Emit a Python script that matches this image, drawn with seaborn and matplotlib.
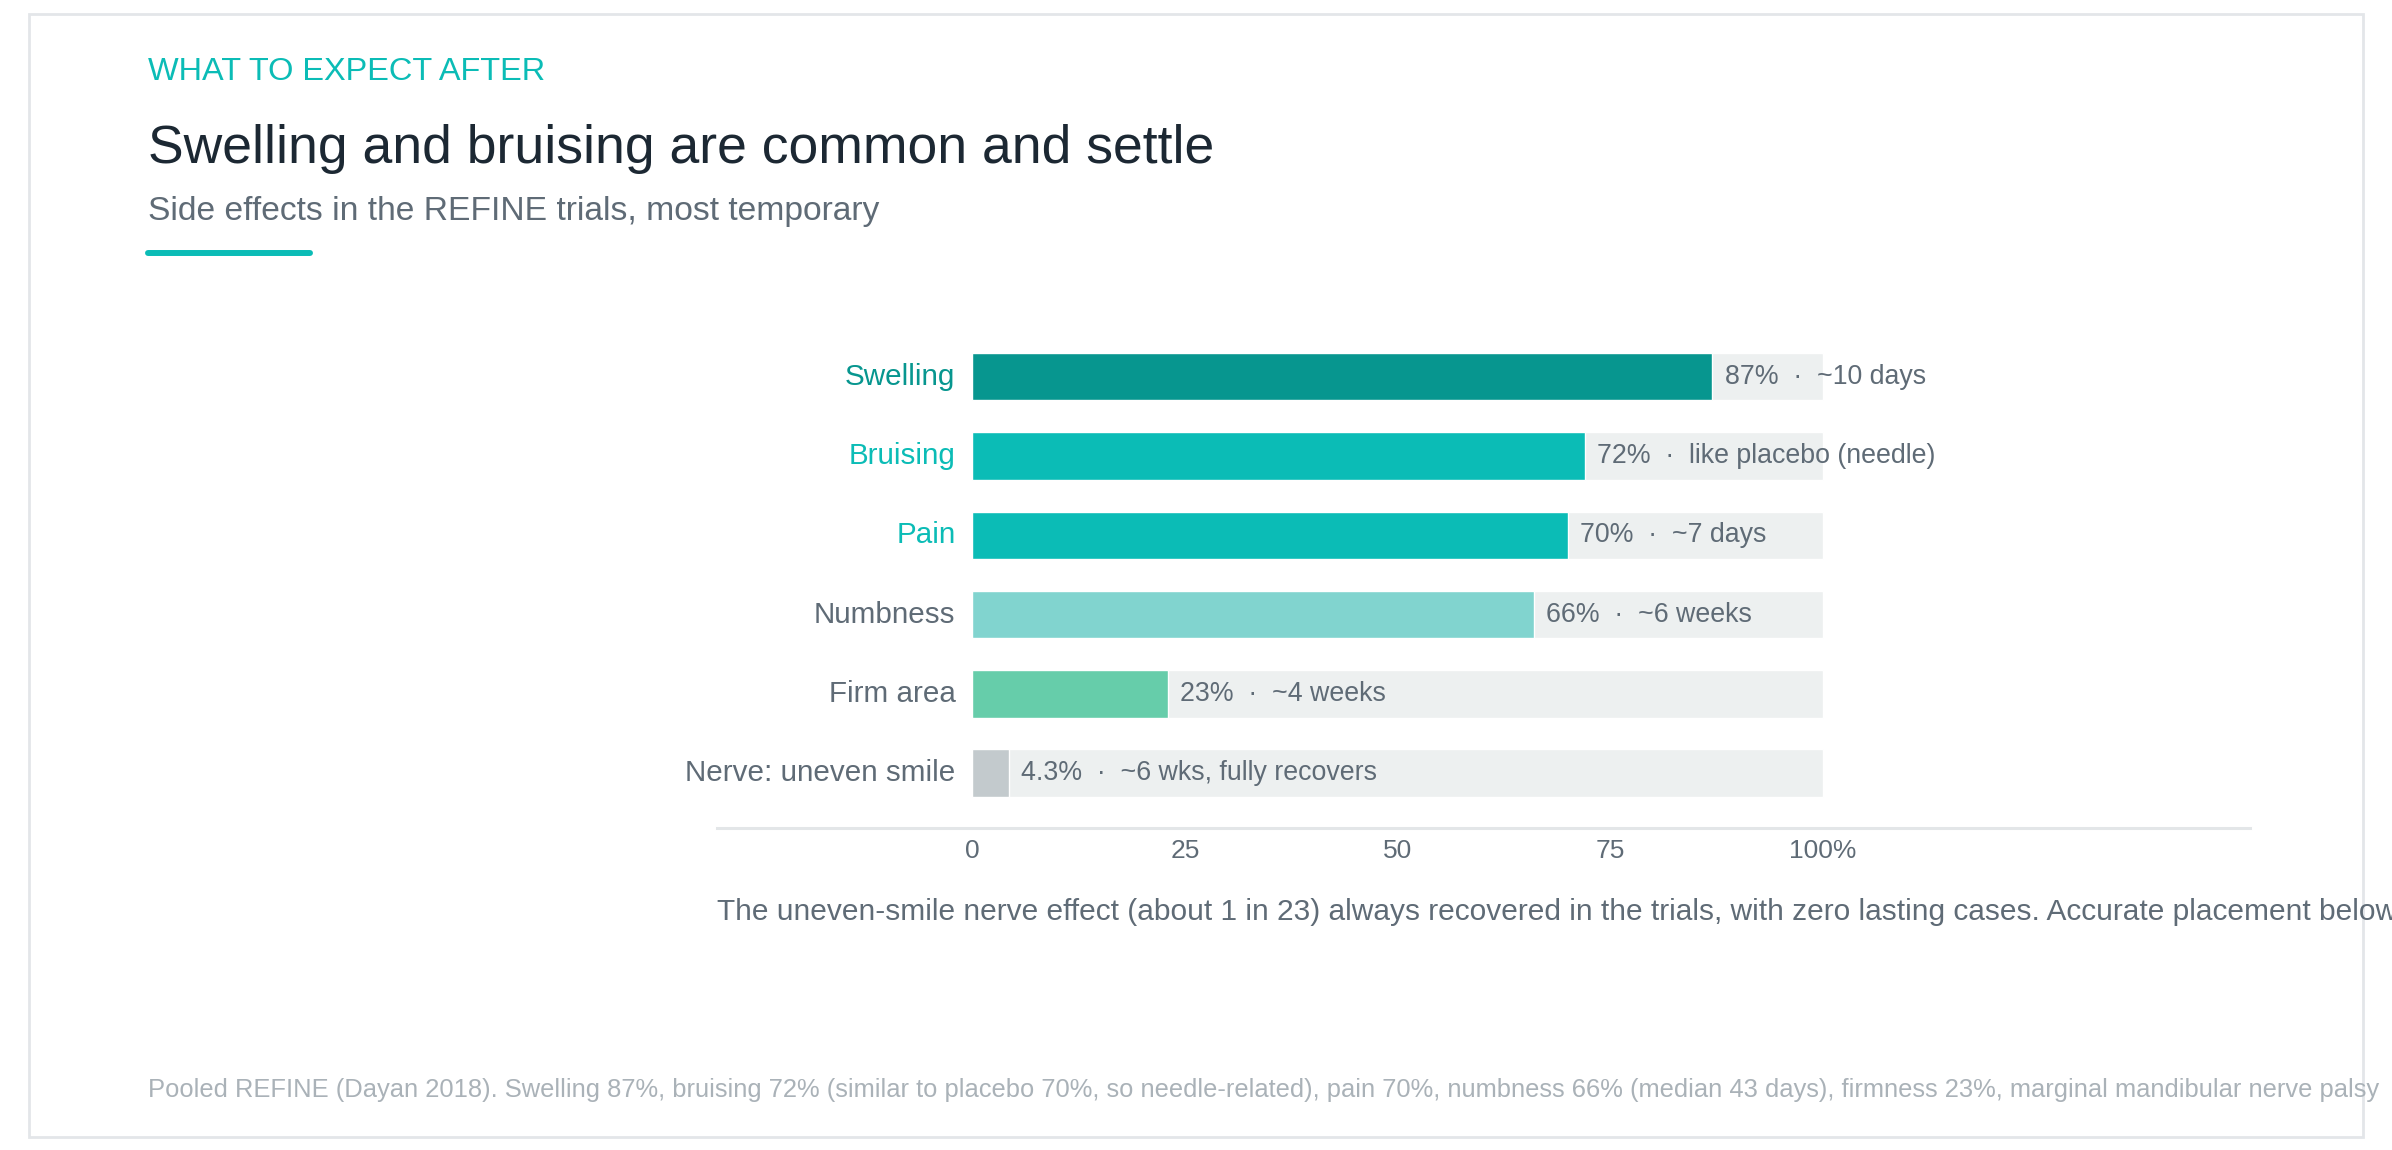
import numpy as np
import pandas as pd
import matplotlib.pyplot as plt
import matplotlib.patches as patches
from matplotlib.lines import Line2D
import seaborn as sns

# 데이터
effects = ['Swelling', 'Bruising', 'Pain', 'Numbness', 'Firm area', 'Nerve: uneven smile']
rates = [87, 72, 70, 66, 23, 4.3]
rate_labels = ['87%', '72%', '70%', '66%', '23%', '4.3%']
durations = ['~10 days', 'like placebo (needle)', '~7 days', '~6 weeks', '~4 weeks', '~6 wks, fully recovers']
bar_colors = ['#07968f', '#0bbcb6', '#0bbcb6', '#81d4cf', '#66cdaa', '#c3cacd']
label_colors = ['#07968f', '#0bbcb6', '#0bbcb6', '#5f6b76', '#5f6b76', '#5f6b76']
ticks = [0, 25, 50, 75, 100]
tick_labels = ['0', '25', '50', '75', '100%']

df = pd.DataFrame({'effect': effects, 'rate': rates, 'track': [100] * len(effects)})

sns.set_style('white')
plt.rcParams['font.family'] = ['Liberation Sans', 'DejaVu Sans']

W, H = 2392, 1150
fig = plt.figure(figsize=(W / 100, H / 100), dpi=100)
fig.patch.set_facecolor('white')

def fx(px):
    return px / W

def fy(py):
    return 1 - py / H

# 카드 테두리
fig.patches.append(patches.Rectangle((fx(29), fy(1137)), fx(2363) - fx(29), fy(14) - fy(1137),
                                     transform=fig.transFigure, fill=False, edgecolor='#e3e6e9', linewidth=2))

# 제목 부분
fig.text(fx(148), fy(80), 'WHAT TO EXPECT AFTER', color='#0bbcb6', fontsize=23.4, va='baseline')
fig.text(fx(148), fy(163), 'Swelling and bruising are common and settle', color='#1c2833', fontsize=38.5, va='baseline')
fig.text(fx(148), fy(220), 'Side effects in the REFINE trials, most temporary', color='#5f6b76', fontsize=24.2, va='baseline')
fig.lines.append(Line2D([fx(148), fx(310)], [fy(253), fy(253)], transform=fig.transFigure,
                        color='#0bbcb6', linewidth=4.3, solid_capstyle='round'))

# 막대 차트
ax = fig.add_axes([fx(717), fy(828), fx(2250) - fx(717), fy(337) - fy(828)])
sns.barplot(data=df, x='track', y='effect', color='#edf0f0', saturation=1, width=0.6, orient='h', ax=ax)
sns.barplot(data=df, x='rate', y='effect', hue='effect', palette=bar_colors, saturation=1, width=0.6,
            orient='h', legend=False, ax=ax)

ax.set_xlim(-30, 150.2)
ax.set_ylim(5.69, -0.5)
ax.set_xticks(ticks)
ax.set_xticklabels(tick_labels)
ax.set_yticks([])
ax.set_xlabel('')
ax.set_ylabel('')
ax.tick_params(axis='x', length=0, pad=8, labelsize=19, labelcolor='#5f6b76')
for side in ['top', 'right', 'left']:
    ax.spines[side].set_visible(False)
ax.spines['bottom'].set_color('#e3e6e8')
ax.spines['bottom'].set_linewidth(2.2)

for i, (name, r) in enumerate(zip(effects, rates)):
    ax.annotate(name, (0, i), xytext=(-12, 0), textcoords='offset points', ha='right', va='center',
                fontsize=21.3, color=label_colors[i])
    ax.annotate(rate_labels[i] + '  \u00b7  ' + durations[i], (r, i), xytext=(9, 0), textcoords='offset points',
                ha='left', va='center', fontsize=19.3, color='#5f6b76')

# 주석
fig.text(fx(717), fy(920), 'The uneven-smile nerve effect (about 1 in 23) always recovered in the trials, '
         'with zero lasting cases. Accurate placement below', color='#5f6b76', fontsize=21.5, va='baseline')
fig.text(fx(148), fy(1097), 'Pooled REFINE (Dayan 2018). Swelling 87%, bruising 72% (similar to placebo 70%, '
         'so needle-related), pain 70%, numbness 66% (median 43 days), firmness 23%, marginal mandibular nerve palsy',
         color='#aab2b8', fontsize=18.4, va='baseline')

fig.savefig('out.png', dpi=100, facecolor='white')
